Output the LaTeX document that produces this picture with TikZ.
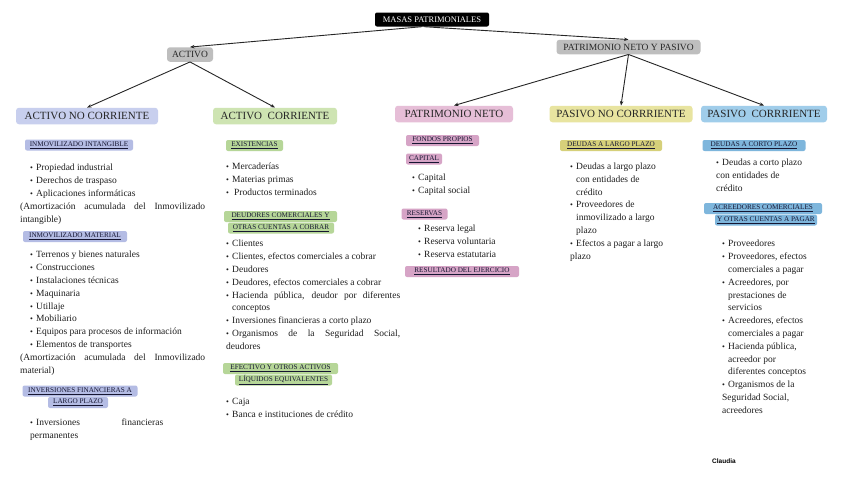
\documentclass[tikz,border=0pt]{standalone}
\usepackage{fontspec}
\setmainfont{Liberation Serif}
\newfontfamily\signfont{Liberation Sans}
\usetikzlibrary{arrows.meta}
\definecolor{lavH}{RGB}{200,207,238}
\definecolor{lavL}{RGB}{180,188,228}
\definecolor{grnH}{RGB}{206,228,178}
\definecolor{grnL}{RGB}{182,214,152}
\definecolor{pnkH}{RGB}{230,190,215}
\definecolor{pnkL}{RGB}{214,164,198}
\definecolor{ylwH}{RGB}{232,228,160}
\definecolor{ylwL}{RGB}{214,208,122}
\definecolor{bluH}{RGB}{160,205,234}
\definecolor{bluL}{RGB}{126,182,220}
\definecolor{grayB}{RGB}{190,190,190}
\definecolor{labtext}{RGB}{22,22,50}
\definecolor{bodytext}{RGB}{30,30,30}
\newcommand\uln[1]{\underline{#1}}
\newcommand\bitem[1]{\par\noindent\hangindent=6pt\hangafter=1\makebox[6pt][l]{\scalebox{0.85}{\textbullet}}#1}
\tikzset{
  topbox/.style={fill=black, text=white, rounded corners=2pt, font=\fontsize{8.5}{9}\selectfont, minimum height=14pt, inner xsep=2pt, inner ysep=0pt},
  grpbox/.style={fill=grayB, rounded corners=3pt, font=\fontsize{9.5}{10}\selectfont, minimum height=14.5pt, inner xsep=2pt, inner ysep=0pt, text=black!85},
  hdr/.style={rounded corners=3pt, font=\fontsize{11}{12}\selectfont, minimum height=16.5pt, inner sep=0pt, text=black!85},
  lab/.style={rounded corners=2pt, font=\fontsize{7.2}{8}\selectfont, minimum height=11pt, inner sep=0pt, text=labtext},
  txt/.style={anchor=north west, inner sep=0pt, align=justify, font=\fontsize{9.5}{12.8}\selectfont, text=bodytext},
  conn/.style={-{Stealth[length=4.5pt,width=3.5pt]}, line width=0.9pt, draw=black!85},
}
\begin{document}
\begin{tikzpicture}[x=1pt,y=-1pt]
\fill[white] (0,0) rectangle (848,477);
\useasboundingbox (0,0) rectangle (848,477);

% top levels
\node[topbox, minimum width=114pt] (masas) at (432,19.5) {MASAS PATRIMONIALES};
\node[grpbox, minimum width=46pt] (activo) at (190,54.5) {ACTIVO};
\node[grpbox, minimum width=144pt] (pnyp) at (628.5,47) {PATRIMONIO NETO Y PASIVO};

% headers
\node[hdr, fill=lavH, minimum width=142pt] (anc) at (87,116) {ACTIVO NO CORRIENTE};
\node[hdr, fill=grnH, minimum width=124pt] (ac) at (275,116) {ACTIVO\ \ CORRIENTE};
\node[hdr, fill=pnkH, minimum width=118pt] (pn) at (454,114) {PATRIMONIO NETO};
\node[hdr, fill=ylwH, minimum width=143pt] (pnc) at (621,114) {PASIVO NO CORRRIENTE};
\node[hdr, fill=bluH, minimum width=126pt] (pc) at (764,114) {PASIVO\ \ CORRRIENTE};

% connectors
\draw[conn] ([xshift=-10pt]masas.south) -- (activo.north);
\draw[conn] ([xshift=-8pt]masas.south) -- (pnyp.north);
\draw[conn] (activo.south) -- (anc.north);
\draw[conn] (activo.south) -- (ac.north);
\draw[conn] (pnyp.south) -- (pn.north);
\draw[conn] (pnyp.south) -- (pnc.north);
\draw[conn] (pnyp.south) -- (pc.north);

% column 1: activo no corriente
\node[lab, fill=lavL, minimum width=108pt] (lii) at (79,145) {\uln{INMOVILIZADO INTANGIBLE}};
\node[txt, text width=150pt] (tii) at (30,157.9) {\bitem{Propiedad industrial}\bitem{Derechos de traspaso}\bitem{Aplicaciones informáticas}};
\node[txt, text width=185pt] (pii) at (20,203.0) {(Amortización acumulada del Inmovilizado\linebreak intangible)};
\node[lab, fill=lavL, minimum width=104pt] (lim) at (75,236.5) {\uln{INMOVILIZADO MATERIAL}};
\node[txt, text width=175pt] (tim) at (30,244.9) {\bitem{Terrenos y bienes naturales}\bitem{Construcciones}\bitem{Instalaciones técnicas}\bitem{Maquinaria}\bitem{Utillaje}\bitem{Mobiliario}\bitem{Equipos para procesos de información}\bitem{Elementos de transportes}};
\node[txt, text width=185pt] (pim) at (20,354.0) {(Amortización acumulada del Inmovilizado\linebreak material)};
\node[lab, fill=lavL, minimum width=115pt] (lif1) at (80,391) {\uln{INVERSIONES FINANCIERAS A}};
\node[lab, fill=lavL, minimum width=60pt] (lif2) at (78,402.5) {\uln{LARGO PLAZO}};
\node[txt, text width=133pt] (tif) at (30,412.9) {\bitem{Inversiones financieras\linebreak permanentes}};

% column 2: activo corriente
\node[lab, fill=grnL, minimum width=57pt] (lex) at (254.5,145.5) {\uln{EXISTENCIAS}};
\node[txt, text width=170pt] (tex) at (226,156.9) {\bitem{Mercaderías}\bitem{Materias primas}\bitem{\hspace{2pt}Productos terminados}};
\node[lab, fill=grnL, minimum width=113pt] (ldc1) at (280.5,216.5) {\uln{DEUDORES COMERCIALES Y}};
\node[lab, fill=grnL, minimum width=106pt] (ldc2) at (281,228) {\uln{OTRAS CUENTAS A COBRAR}};
\node[txt, text width=174pt] (tdc) at (226,233.9) {\bitem{Clientes}\bitem{Clientes, efectos comerciales a cobrar}\bitem{Deudores}\bitem{Deudores, efectos comerciales a cobrar}\bitem{Hacienda pública, deudor por diferentes\linebreak conceptos}\bitem{Inversiones financieras a corto plazo}\bitem{Organismos de la Seguridad Social,\linebreak deudores}};
\node[lab, fill=grnL, minimum width=115pt] (lef1) at (280.5,368.5) {\uln{EFECTIVO Y OTROS ACTIVOS}};
\node[lab, fill=grnL, minimum width=97pt] (lef2) at (283.5,380) {\uln{LÍQUIDOS EQUIVALENTES}};
\node[txt, text width=170pt] (tef) at (226,391.9) {\bitem{Caja}\bitem{Banca e instituciones de crédito}};

% column 3: patrimonio neto
\node[lab, fill=pnkL, minimum width=73pt] (lfp) at (442.5,140.5) {\uln{FONDOS PROPIOS}};
\node[lab, fill=pnkL, minimum width=36pt] (lca) at (424,159) {\uln{CAPITAL}};
\node[txt, text width=100pt] (tca) at (412,167.9) {\bitem{Capital}\bitem{Capital social}};
\node[lab, fill=pnkL, minimum width=46pt] (lre) at (424.5,214) {\uln{RESERVAS}};
\node[txt, text width=100pt] (tre) at (418,218.9) {\bitem{Reserva legal}\bitem{Reserva voluntaria}\bitem{Reserva estatutaria}};
\node[lab, fill=pnkL, minimum width=114pt] (lrs) at (462,271.5) {\uln{RESULTADO DEL EJERCICIO}};

% column 4: pasivo no corriente
\node[lab, fill=ylwL, minimum width=102pt] (llp) at (611,145.5) {\uln{DEUDAS A LARGO PLAZO}};
\node[txt, text width=110pt] (tlp) at (570,156.4) {\bitem{Deudas a largo plazo\newline con entidades de\newline crédito}\bitem{Proveedores de\newline inmovilizado a largo\newline plazo}\bitem{Efectos a pagar a largo\newline plazo}};

% column 5: pasivo corriente
\node[lab, fill=bluL, minimum width=103pt] (lcp) at (754,145.5) {\uln{DEUDAS A CORTO PLAZO}};
\node[txt, text width=110pt] (tcp) at (716,152.9) {\bitem{Deudas a corto plazo\newline con entidades de\newline crédito}};
\node[lab, fill=bluL, minimum width=118pt] (lac1) at (763,208.5) {\uln{ACREEDORES COMERCIALES}};
\node[lab, fill=bluL, minimum width=102pt] (lac2) at (766,220) {\uln{Y OTRAS CUENTAS A PAGAR}};
\node[txt, text width=110pt] (tac) at (722,233.9) {\bitem{Proveedores}\bitem{Proveedores, efectos\newline comerciales a pagar}\bitem{Acreedores, por\newline prestaciones de\newline servicios}\bitem{Acreedores, efectos\newline comerciales a pagar}\bitem{Hacienda pública,\newline acreedor por\newline diferentes conceptos}\bitem{Organismos de la\newline Seguridad Social,\newline acreedores}};

% signature
\node[anchor=west, inner sep=0pt, font=\signfont\bfseries\fontsize{6.5}{7}\selectfont] (sig) at (712,461) {Claudia};
\end{tikzpicture}
\end{document}
